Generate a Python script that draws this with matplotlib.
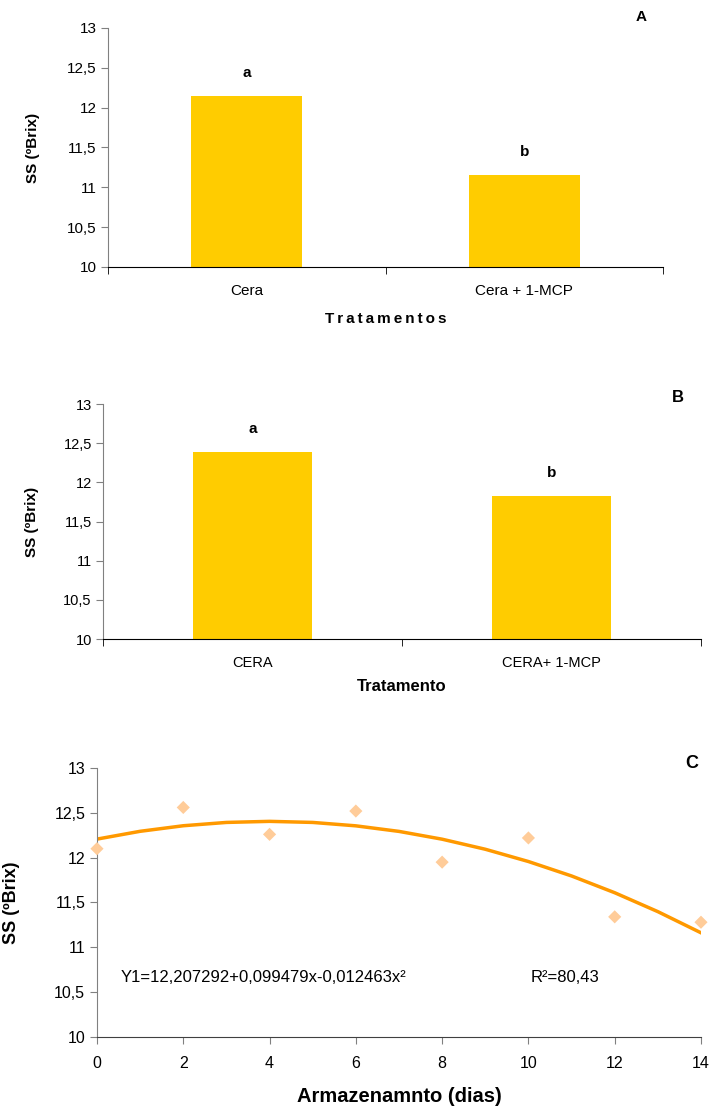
import numpy as np
import matplotlib
matplotlib.use('Agg')
import matplotlib.pyplot as plt

plt.rcParams['font.family'] = ['Liberation Sans', 'DejaVu Sans']

# A - tratamentos
trat_a = ['Cera', 'Cera + 1-MCP']
ss_a = [12.15, 11.15]
letras_a = ['a', 'b']

# B - tratamento
trat_b = ['CERA', 'CERA+ 1-MCP']
ss_b = [12.39, 11.83]
letras_b = ['a', 'b']

# C - armazenamento
dias = [0, 2, 4, 6, 8, 10, 12, 14]
ss_c = [12.10, 12.56, 12.26, 12.52, 11.95, 12.22, 11.34, 11.28]
dias_ajuste = [0, 1, 2, 3, 4, 5, 6, 7, 8, 9, 10, 11, 12, 13, 14]
ss_ajuste = [12.207, 12.294, 12.356, 12.393, 12.405, 12.393, 12.355, 12.293,
             12.206, 12.094, 11.957, 11.796, 11.609, 11.398, 11.162]

yticks = [10, 10.5, 11, 11.5, 12, 12.5, 13]
ytick_lbl = ['10', '10,5', '11', '11,5', '12', '12,5', '13']

amarelo = '#FFCC00'
laranja = '#FF9900'
pessego = '#FFCC99'
cinza = '#808080'

fig = plt.figure(figsize=(7.1, 11.06), dpi=100)


def barras(ax, cats, vals, letras, fs, ylfs, xlabel, xlfs, lx, ly):
    x = np.arange(len(cats))
    ax.bar(x, [v - 10 for v in vals], bottom=10, width=0.4, color=amarelo)
    for xi, v, l in zip(x, vals, letras):
        ax.text(xi, v + 0.2, l, ha='center', va='bottom', fontsize=11,
                fontweight='bold')
    ax.set_xlim(-0.5, len(cats) - 0.5)
    ax.set_ylim(10, 13)
    ax.set_yticks(yticks)
    ax.set_yticklabels(ytick_lbl, fontsize=fs)
    ax.set_xticks(x)
    ax.set_xticklabels(cats, fontsize=fs)
    ax.set_xticks(np.arange(len(cats) + 1) - 0.5, minor=True)
    ax.tick_params(axis='x', which='major', length=0, pad=12)
    ax.tick_params(axis='x', which='minor', length=5, color='black')
    ax.tick_params(axis='y', length=5, color=cinza, pad=3)
    for s in ['top', 'right']:
        ax.spines[s].set_visible(False)
    ax.spines['left'].set_color(cinza)
    ax.spines['bottom'].set_color('black')
    ax.set_ylabel('SS (ºBrix)', fontweight='bold', fontsize=ylfs)
    ax.yaxis.set_label_coords(ly, 0.5)
    ax.set_xlabel(xlabel, fontweight='bold', fontsize=xlfs)
    ax.xaxis.set_label_coords(0.5, lx)


ax1 = fig.add_axes([0.152, 0.7586, 0.782, 0.2161])
barras(ax1, trat_a, ss_a, letras_a, 11, 11,
       '\u2009'.join('Tratamentos'), 11, -0.19, -0.1225)
fig.text(641 / 710, 1 - 17 / 1106, 'A', fontweight='bold', fontsize=11,
         ha='center', va='center')

ax2 = fig.add_axes([0.145, 0.4222, 0.842, 0.2125])
barras(ax2, trat_b, ss_b, letras_b, 10.5, 11, 'Tratamento', 12, -0.17, -0.107)
fig.text(678 / 710, 1 - 398 / 1106, 'B', fontweight='bold', fontsize=12,
         ha='center', va='center')

# C - curva ajustada e pontos observados
ax3 = fig.add_axes([0.1366, 0.0624, 0.8507, 0.2432])
ax3.plot(dias_ajuste, ss_ajuste, color=laranja, lw=2.5, zorder=2)
ax3.scatter(dias, ss_c, marker='D', s=45, color=pessego, edgecolor='none',
            zorder=3, clip_on=False)
ax3.set_xlim(0, 14)
ax3.set_ylim(10, 13)
ax3.set_xticks(range(0, 15, 2))
ax3.set_xticklabels([str(d) for d in range(0, 15, 2)], fontsize=11.5)
ax3.set_yticks(yticks)
ax3.set_yticklabels(ytick_lbl, fontsize=11.5)
ax3.tick_params(axis='both', length=5, color=cinza)
ax3.tick_params(axis='x', pad=9)
for s in ['top', 'right']:
    ax3.spines[s].set_visible(False)
ax3.spines['left'].set_color(cinza)
ax3.spines['bottom'].set_color('#404040')
ax3.set_ylabel('SS (ºBrix)', fontweight='bold', fontsize=13)
ax3.yaxis.set_label_coords(-0.127, 0.5)
ax3.set_xlabel('Armazenamnto (dias)', fontweight='bold', fontsize=14.5)
ax3.xaxis.set_label_coords(0.5, -0.185)
ax3.text(0.55, 10.66, 'Y1=12,207292+0,099479x-0,012463x²', fontsize=12,
         va='center')
ax3.text(10.05, 10.66, 'R²=80,43', fontsize=12, va='center')
fig.text(692 / 710, 1 - 764 / 1106, 'C', fontweight='bold', fontsize=13,
         ha='center', va='center')

fig.savefig('out.png', dpi=100)
